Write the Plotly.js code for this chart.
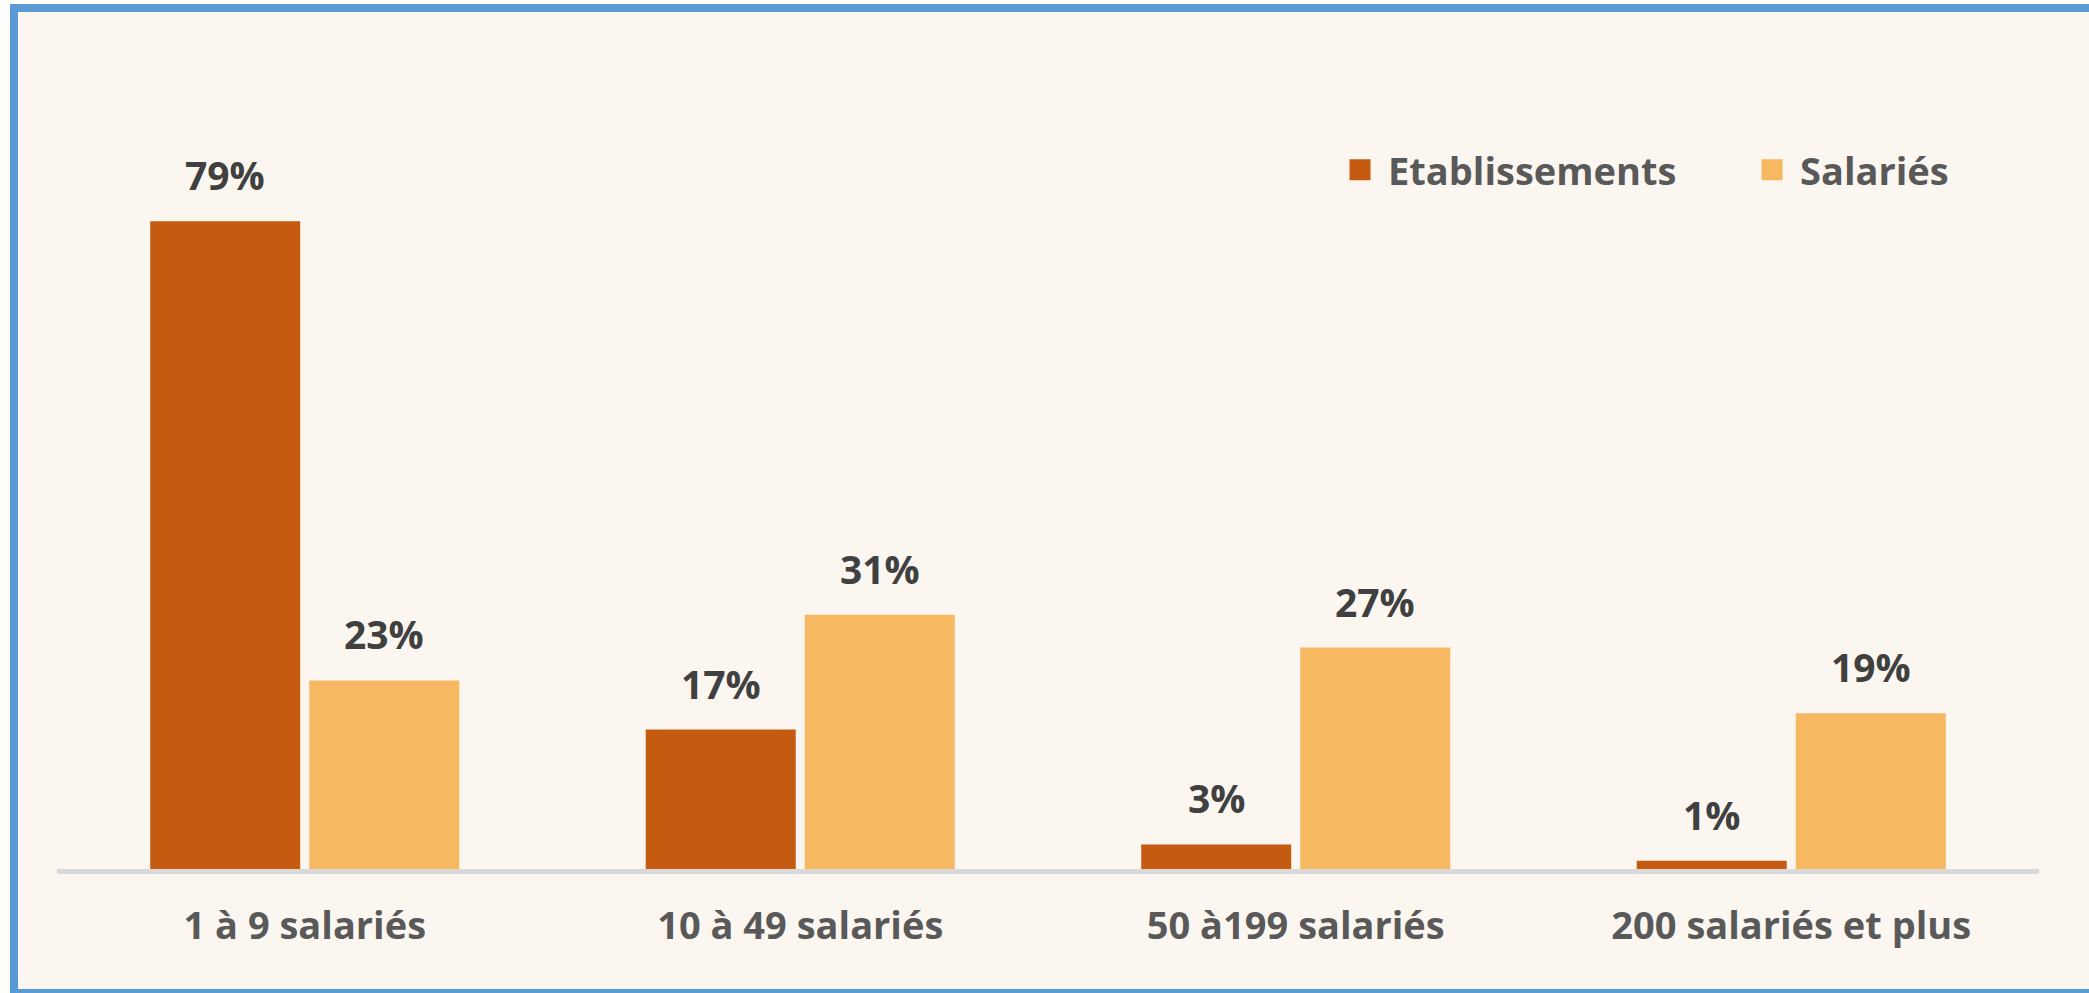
<!DOCTYPE html>
<html>
<head>
<meta charset="utf-8">
<script src="https://cdn.plot.ly/plotly-3.0.1.min.js"></script>
<style>
  html, body { margin: 0; padding: 0; background: #ffffff; width: 2089px; height: 993px; overflow: hidden; }
  #chart { position: absolute; left: 10px; top: 4px; width: 2079px; height: 989px; }
  #frame { position: absolute; left: 10px; top: 4px; width: 2079px; height: 989px; box-sizing: border-box;
           border-left: 8px solid #5B9BD5; border-top: 8px solid #5B9BD5; border-bottom: 4px solid #5B9BD5;
           pointer-events: none; }
</style>
</head>
<body>
<div id="chart"></div>
<div id="frame"></div>
<script>
const categories = ["1 à 9 salariés", "10 à 49 salariés", "50 à199 salariés", "200 salariés et plus"];
const etablissements = [79, 17, 3, 1];
const salaries = [23, 31, 27, 19];
const seriesNames = ["Etablissements", "Salariés"];
const seriesColors = ["#C55A11", "#F7B862"];

const W = 2079, H = 989;
const M = {l: 47, r: 50, t: 127, b: 124, autoexpand: false};
const bargap = 0.358;
const plotW = W - M.l - M.r;
const slotPx = plotW / categories.length * (1 - bargap) / 2;

const FONT = "'Open Sans', Lato, sans-serif";

const traces = [
  {type: "bar", x: categories, y: etablissements, name: seriesNames[0],
   marker: {color: seriesColors[0]}, showlegend: false, hoverinfo: "skip"},
  {type: "bar", x: categories, y: salaries, name: seriesNames[1],
   marker: {color: seriesColors[1]}, showlegend: false, hoverinfo: "skip"},
  {type: "scatter", mode: "markers", x: [null], y: [null], name: seriesNames[0], legend: "legend",
   marker: {symbol: "square", size: 16, color: seriesColors[0], line: {color: seriesColors[0], width: 5}}, hoverinfo: "skip"},
  {type: "scatter", mode: "markers", x: [null], y: [null], name: seriesNames[1], legend: "legend2",
   marker: {symbol: "square", size: 16, color: seriesColors[1], line: {color: seriesColors[1], width: 5}}, hoverinfo: "skip"}
];

const annotations = [];
[etablissements, salaries].forEach((vals, si) => {
  vals.forEach((v, i) => {
    annotations.push({
      x: categories[i], y: v, xref: "x", yref: "y",
      text: v + "%", showarrow: false,
      xanchor: "center", yanchor: "bottom",
      xshift: (si === 0 ? -1 : 1) * slotPx / 2, yshift: 18,
      font: {family: FONT, size: 39, color: "#404040", weight: "bold"}
    });
  });
});

const legendBase = {
  orientation: "h", xanchor: "left", y: 0.947, yanchor: "middle",
  bgcolor: "rgba(0,0,0,0)", borderwidth: 0, itemwidth: 46,
  font: {family: FONT, size: 38, color: "#595959", weight: "bold"},
  itemclick: false
};

const layout = {
  width: W, height: H,
  margin: M,
  paper_bgcolor: "#FBF7F0",
  plot_bgcolor: "#FBF7F0",
  barmode: "group",
  bargap: bargap,
  bargroupgap: 0.057,
  showlegend: true,
  legend: Object.assign({}, legendBase, {x: 0.6433}),
  legend2: Object.assign({}, legendBase, {x: 0.8512}),
  xaxis: {
    type: "category",
    showline: true, linecolor: "#D9D9D9", linewidth: 5,
    showgrid: false, zeroline: false, ticks: "",
    tickfont: {family: FONT, size: 38, color: "#595959", weight: "bold"},
    ticklabelstandoff: 19,
    fixedrange: true
  },
  yaxis: {
    range: [0, 90], visible: false, showgrid: false, zeroline: false, fixedrange: true
  },
  annotations: annotations,
  hovermode: false
};

Plotly.newPlot("chart", traces, layout, {displayModeBar: false, staticPlot: true});
</script>
</body>
</html>
